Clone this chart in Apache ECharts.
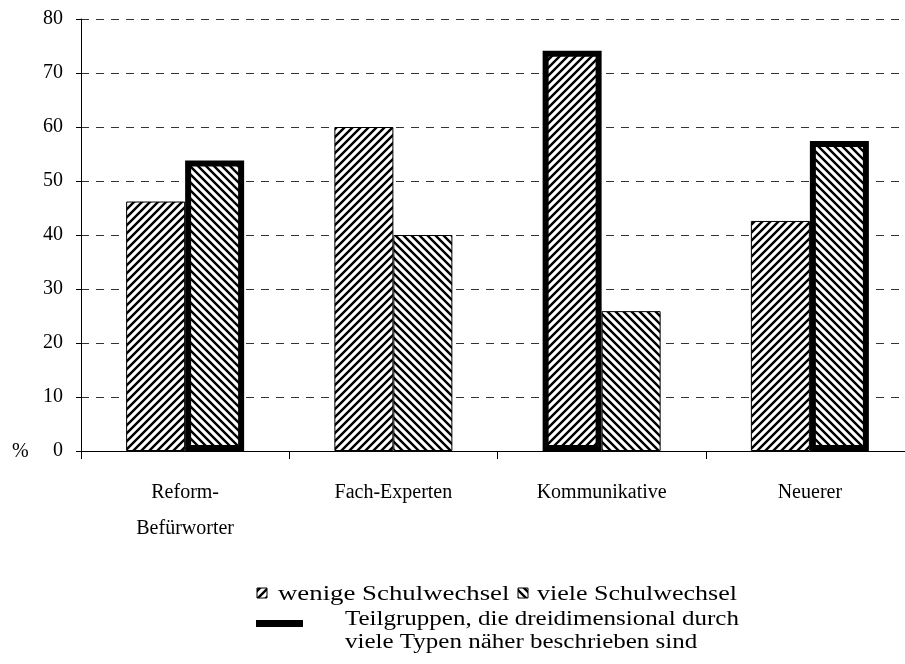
<!DOCTYPE html>
<html>
<head>
<meta charset="utf-8">
<script src="https://cdn.jsdelivr.net/npm/echarts@6/dist/echarts.min.js"></script>
<style>
	html, body { margin: 0; padding: 0; background: #fff; overflow: hidden; }
	/* the plot area runs a little past the right edge of the page, as in the original */
	#chart { width: 914px; height: 664px; }
</style>
</head>
<body>
<div id="chart"></div>
<script>
var categories = ["Reform-\nBefürworter", "Fach-Experten", "Kommunikative", "Neuerer"];
var wenigeValues = [46.2, 60, 74.1, 42.6];
var vieleValues = [53.8, 40, 25.9, 57.4];
// bars drawn with the thick frame (Teilgruppen ... beschrieben)
var wenigeThick = [false, false, true, false];
var vieleThick = [true, false, false, true];
var yTicks = [0, 10, 20, 30, 40, 50, 60, 70, 80];

var FONT = "Liberation Serif";

// hatch tiles
function makeHatch(dir){
	var c = document.createElement("canvas");
	c.width = 8; c.height = 8;
	var ctx = c.getContext("2d");
	ctx.fillStyle = "#fff";
	ctx.fillRect(0, 0, 8, 8);
	ctx.strokeStyle = "#000";
	ctx.lineWidth = 2.4;
	ctx.beginPath();
	if (dir == "/") {
		ctx.moveTo(-4, 4); ctx.lineTo(4, -4);
		ctx.moveTo(0, 8); ctx.lineTo(8, 0);
		ctx.moveTo(4, 12); ctx.lineTo(12, 4);
	} else {
		ctx.moveTo(-4, 4); ctx.lineTo(4, 12);
		ctx.moveTo(0, 0); ctx.lineTo(8, 8);
		ctx.moveTo(4, -4); ctx.lineTo(12, 4);
	}
	ctx.stroke();
	return c;
}
var slash = { image: makeHatch("/"), repeat: "repeat" };
var back = { image: makeHatch("\\"), repeat: "repeat" };

function barData(values, thick){
	return values.map(function(v, i){
		if (thick[i]) {
			return { value: v, itemStyle: { borderWidth: 6, borderColor: "#000" } };
		}
		return v;
	});
}

// legend text, stretched a bit like the original print
function legendText(str, x, y, sx){
	return {
		type: "text", x: x, y: y, scaleX: sx,
		style: { text: str, font: "20px " + FONT, fill: "#000", verticalAlign: "middle", align: "left" }
	};
}

var option = {
	animation: false,
	backgroundColor: "#fff",
	grid: { left: 81, top: 19, right: 0, bottom: 213, containLabel: false },
	xAxis: {
		type: "category",
		data: categories,
		axisLine: { lineStyle: { color: "#000", width: 1 } },
		axisTick: { show: true, length: 8, lineStyle: { color: "#000" } },
		axisLabel: {
			color: "#000", fontFamily: FONT, fontSize: 20,
			lineHeight: 36, margin: 24
		},
		splitLine: { show: false }
	},
	yAxis: {
		type: "value",
		min: 0, max: 80, interval: 10,
		axisLine: { show: true, lineStyle: { color: "#000", width: 1 } },
		axisTick: { show: true, length: 5, lineStyle: { color: "#000" } },
		axisLabel: {
			color: "#000", fontFamily: FONT, fontSize: 20, margin: 18,
			formatter: function(v){ return yTicks.indexOf(v) >= 0 ? String(v) : ""; }
		},
		splitLine: {
			show: true,
			lineStyle: { color: "#333", type: [8, 7], width: 1 }
		}
	},
	series: [
		{
			name: "wenige Schulwechsel",
			type: "bar",
			barWidth: 59,
			barGap: "0%",
			data: barData(wenigeValues, wenigeThick),
			itemStyle: { color: slash, borderColor: "#000", borderWidth: 1 }
		},
		{
			name: "viele Schulwechsel",
			type: "bar",
			barWidth: 59,
			barGap: "0%",
			data: barData(vieleValues, vieleThick),
			itemStyle: { color: back, borderColor: "#000", borderWidth: 1 }
		}
	],
	graphic: [
		{ type: "text", x: 12, y: 452, style: { text: "%", font: "20px " + FONT, fill: "#000", verticalAlign: "middle" } },
		// legend
		{ type: "rect", shape: { x: 257, y: 588, width: 10, height: 10 }, style: { fill: slash, stroke: "#000", lineWidth: 1 } },
		legendText("wenige Schulwechsel", 278, 595, 1.34),
		{ type: "rect", shape: { x: 518, y: 588, width: 10, height: 10 }, style: { fill: back, stroke: "#000", lineWidth: 1 } },
		legendText("viele Schulwechsel", 537, 595, 1.3),
		{ type: "rect", shape: { x: 256, y: 620, width: 47, height: 7 }, style: { fill: "#000" } },
		legendText("Teilgruppen, die dreidimensional durch", 345, 620, 1.25),
		legendText("viele Typen näher beschrieben sind", 345, 643, 1.25)
	]
};

var myChart = echarts.init(document.getElementById("chart"));
myChart.setOption(option);
</script>
</body>
</html>
